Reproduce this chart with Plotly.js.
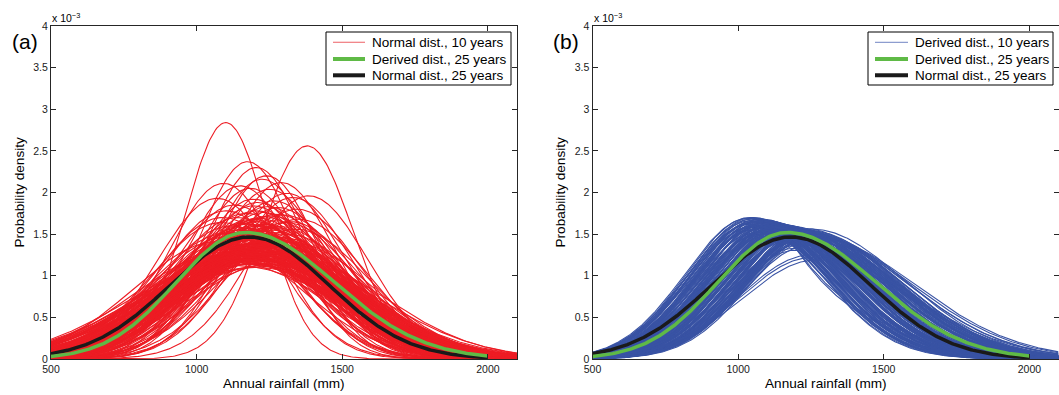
<!DOCTYPE html>
<html><head><meta charset="utf-8">
<script src="https://cdn.plot.ly/plotly-3.0.1.min.js"></script>
<style>html,body{margin:0;padding:0;background:#fff;}#chart{width:1059px;height:395px;}</style>
</head><body><div id="chart"></div>
<script>
// ---- axis ticks ----
const xTickVals = [500, 1000, 1500, 2000];
const yTickVals = [0, 0.5, 1, 1.5, 2, 2.5, 3, 3.5, 4];

// ---- legend labels ----
const legendA = ['Normal dist., 10 years', 'Derived dist., 25 years', 'Normal dist., 25 years'];
const legendB = ['Derived dist., 10 years', 'Derived dist., 25 years', 'Normal dist., 25 years'];

// ---- panel (a): normal distributions from 10-year records (mean mm, peak density x1e-3) ----
const redMeans = [1100,1380,1175,1205,1092,1225,1290,1250,1310,1385,1070,1185,1240,1150,1330,1265,1210,1130,1195,1280,
  1345,1100,1230,1170,1300,1255,1140,1215,1190,1270,1320,1085,1160,1235,1205,1120,1285,1250,1180,1340,
  1145,1220,1195,1265,1105,1310,1240,1165,1210,1290,1135,1260,1185,1230,1070,1325,1200,1155,1275,1245,
  1115,1215,1190,1300,1170,1255,1225,1095,1280,1150,1205,1235,1180,1315,1125,1260,1195,1240,1160,1290,
  1215,1185,1250,1140,1225,1200,1270,1110,1175,1230,1145,1285,1205,1255,1165,1305,1090,1220,1195,1265,
  1135,1245,1180,1350,1210,1155,1275,1120,1240,1190,
  1160,1200,1240,1180,1220,1260,1140,1190,1230,1170,1210,1250,1130,1200,1280,1150,1195,1235,1175,1215,
  1255,1125,1185,1245,1165,1205,1270,1145,1225,1190,1110,1240,1180,1260,1155,1215,1200,1235,1170,1285,
  1135,1225,1195,1250,1160,1210,1120,1275,1185,1230,1150,1265,1205,1175,1245,1190,1220,1140,1255,1200];
const redPeaks = [2.84,2.56,2.37,2.30,2.11,2.16,2.12,2.04,1.99,1.96,1.93,2.05,2.20,2.08,1.94,1.90,1.88,1.85,1.84,1.82,
  1.80,1.78,1.76,1.75,1.73,1.72,1.70,1.69,1.68,1.66,1.65,1.64,1.63,1.62,1.61,1.60,1.59,1.58,1.57,1.56,
  1.55,1.54,1.53,1.52,1.51,1.50,1.49,1.48,1.47,1.46,1.45,1.44,1.43,1.42,1.41,1.40,1.39,1.38,1.37,1.36,
  1.35,1.34,1.33,1.32,1.31,1.30,1.29,1.28,1.27,1.26,1.25,1.24,1.23,1.22,1.21,1.20,1.19,1.18,1.17,1.16,
  1.15,1.14,1.13,1.12,1.11,1.10,1.58,1.47,1.62,1.71,1.36,1.42,1.78,1.55,1.29,1.64,1.70,1.38,1.92,1.27,
  1.52,1.83,1.45,1.68,1.21,1.58,1.74,1.33,1.40,1.66,
  1.20,1.25,1.30,1.35,1.40,1.28,1.18,1.45,1.22,1.50,1.32,1.26,1.24,1.55,1.30,1.16,1.38,1.48,1.27,1.60,
  1.34,1.19,1.42,1.23,1.52,1.29,1.44,1.21,1.36,1.31,1.17,1.57,1.24,1.39,1.46,1.26,1.65,1.33,1.14,1.37,
  1.28,1.49,1.20,1.35,1.43,1.18,1.32,1.25,1.54,1.41,1.23,1.47,1.30,1.22,1.29,1.37,1.19,1.34,1.27,1.44];

// ---- 25-year reference curves ----
const normal25Mean = 1182, normal25Sd = 272;
const derived25Mode = 1168, derived25Peak = 1.52, derived25SdL = 238, derived25SdR = 305;

// ---- panel (b): derived distributions from 10-year records (mode mm, peak x1e-3, left/right spread mm) ----
const blueModes = [1035,1040,1042,1045,1048,1050,1053,1056,1058,1060,1063,1066,1068,1070,1073,1076,1078,1080,1083,1086,
  1088,1090,1093,1096,1098,1100,1103,1106,1108,1110,1113,1116,1118,1120,1123,1126,1128,1130,1133,1136,
  1138,1140,1143,1146,1148,1150,1153,1156,1158,1160,1163,1166,1168,1170,1173,1176,1178,1180,1183,1186,
  1188,1190,1193,1196,1198,1200,1203,1206,1208,1210,1213,1216,1218,1220,1223,1226,1228,1230,1233,1236,
  1238,1240,1243,1246,1248,1250,1253,1255,
  1044,1051,1059,1065,1072,1079,1085,1091,1099,1105,1111,1117,1124,1131,1137,1144,1151,1157,1164,1171,
  1177,1184,1191,1197,1204,1211,1217,1224,1231,1237,1244,1251,1047,1062,1075,1089,1102,1115,1129,1142,
  1155,1169,1182,1195,1209,1222,1235,1249,
  1230,1240,1235,1245, 1255,1268,1250];
const bluePeaks = [1.69,1.70,1.62,1.68,1.58,1.70,1.65,1.55,1.69,1.61,1.67,1.52,1.68,1.59,1.66,1.63,1.50,1.68,1.57,1.65,
  1.61,1.67,1.54,1.64,1.59,1.66,1.48,1.62,1.65,1.56,1.63,1.60,1.52,1.64,1.58,1.62,1.46,1.63,1.55,1.61,
  1.59,1.50,1.62,1.57,1.60,1.44,1.58,1.61,1.53,1.59,1.56,1.48,1.60,1.55,1.58,1.42,1.57,1.52,1.59,1.55,
  1.46,1.58,1.53,1.56,1.40,1.57,1.50,1.55,1.44,1.56,1.52,1.38,1.55,1.49,1.57,1.45,1.53,1.41,1.55,1.48,
  1.52,1.36,1.54,1.46,1.50,1.42,1.56,1.47,
  1.66,1.60,1.64,1.57,1.66,1.61,1.54,1.63,1.58,1.51,1.62,1.57,1.61,1.49,1.60,1.55,1.59,1.47,1.58,1.53,
  1.57,1.45,1.56,1.51,1.55,1.43,1.54,1.49,1.53,1.44,1.52,1.50,1.64,1.56,1.62,1.53,1.60,1.55,1.58,1.52,
  1.57,1.50,1.56,1.47,1.53,1.46,1.51,1.45,
  1.52,1.50,1.53,1.49, 1.22,1.19,1.25];
const blueSdL = [217,216,220,214,222,218,215,224,219,213,221,218,216,223,214,220,217,215,222,218,
  214,220,216,223,215,219,221,217,214,222,218,215,220,217,223,216,219,214,221,218,
  215,222,217,220,214,223,216,219,215,221,217,214,220,218,223,216,219,215,221,217,
  220,214,222,218,216,221,217,214,220,218,223,216,219,215,221,217,220,214,222,218,
  216,221,217,220,215,222,218,216,
  219,215,221,217,214,222,218,216,220,223,215,219,217,221,214,218,222,216,220,215,
  219,223,217,214,221,218,216,220,215,222,217,219,214,220,216,222,218,215,221,217,
  219,214,222,216,220,218,215,221,
  215,218,216,220, 250,256,246];
const blueSdR = [246,250,248,255,252,258,250,262,256,260,254,265,258,262,266,256,270,262,268,260,
  272,264,270,266,274,262,276,268,272,266,276,270,280,268,274,278,282,272,280,274,
  284,278,282,276,286,284,280,288,282,290,284,292,286,282,294,288,292,286,296,290,
  298,292,294,300,296,298,302,296,304,300,298,306,302,306,300,308,304,310,306,310,
  312,308,314,310,316,312,318,314,
  252,257,259,263,261,268,266,271,270,275,273,279,278,283,281,287,285,291,289,294,
  292,298,296,301,299,305,303,308,306,312,310,315,254,262,264,272,269,277,276,284,
  282,290,288,297,295,303,301,311,
  345,352,340,358, 335,340,330];
// curves with a sharp (cusped) peak: left spread and right exponential decay length
const kinkModes = [1198, 1204];
const kinkPeaks = [1.33, 1.31];
const kinkSdL = [245, 240];
const kinkDecay = [250, 265];

// ---- colours ----
const RED = '#ed1c24', BLUE = '#3953a4', GREEN = '#5fba46', BLACK = '#1a1a1a';

const grid = []; for (let x = 500; x <= 2100; x += 5) grid.push(x);
const grid25 = grid.filter(x => x <= 2000);

function normalCurve(mean, peak, xs) {
  const sd = 398.942 / peak;
  return xs.map(x => peak * Math.exp(-0.5 * Math.pow((x - mean) / sd, 2)));
}
function normalSd(mean, sd, xs) {
  const peak = 398.942 / sd;
  return xs.map(x => peak * Math.exp(-0.5 * Math.pow((x - mean) / sd, 2)));
}
function twoPiece(mode, peak, sl, sr, xs) {
  return xs.map(x => { const s = x < mode ? sl : sr; return peak * Math.exp(-0.5 * Math.pow((x - mode) / s, 2)); });
}
function cusp(mode, peak, sl, b, xs) {
  return xs.map(x => x < mode ? peak * Math.exp(-0.5 * Math.pow((x - mode) / sl, 2)) : peak * Math.exp(-(x - mode) / b));
}

const traces = [];
const common = {type: 'scatter', mode: 'lines', showlegend: false, hoverinfo: 'skip'};
// panel (a)
redMeans.forEach((m, i) => traces.push(Object.assign({}, common, {
  x: grid, y: normalCurve(m, redPeaks[i], grid), line: {color: RED, width: 1.1}, name: legendA[0], xaxis: 'x', yaxis: 'y'})));
traces.push(Object.assign({}, common, {x: grid25, y: normalSd(normal25Mean, normal25Sd, grid25),
  line: {color: BLACK, width: 3.5}, name: legendA[2], xaxis: 'x', yaxis: 'y'}));
traces.push(Object.assign({}, common, {x: grid25, y: twoPiece(derived25Mode, derived25Peak, derived25SdL, derived25SdR, grid25),
  line: {color: GREEN, width: 3.5}, name: legendA[1], xaxis: 'x', yaxis: 'y'}));
// panel (b)
blueModes.forEach((m, i) => traces.push(Object.assign({}, common, {
  x: grid, y: twoPiece(m, bluePeaks[i], blueSdL[i], blueSdR[i], grid), line: {color: BLUE, width: 1.1}, name: legendB[0], xaxis: 'x2', yaxis: 'y2'})));
kinkModes.forEach((m, i) => traces.push(Object.assign({}, common, {
  x: grid, y: cusp(m, kinkPeaks[i], kinkSdL[i], kinkDecay[i], grid), line: {color: BLUE, width: 1.1}, name: legendB[0], xaxis: 'x2', yaxis: 'y2'})));
traces.push(Object.assign({}, common, {x: grid25, y: normalSd(normal25Mean, normal25Sd, grid25),
  line: {color: BLACK, width: 3.5}, name: legendB[2], xaxis: 'x2', yaxis: 'y2'}));
traces.push(Object.assign({}, common, {x: grid25, y: twoPiece(derived25Mode, derived25Peak, derived25SdL, derived25SdR, grid25),
  line: {color: GREEN, width: 3.5}, name: legendB[1], xaxis: 'x2', yaxis: 'y2'}));

const FONT = 'Liberation Sans, Arial, Helvetica, sans-serif';
const W = 1059, H = 395;
const px = v => v / W, py = v => 1 - v / H;
const axisCommon = {
  showline: true, linecolor: '#262626', linewidth: 1, mirror: 'ticks', ticks: 'inside', ticklen: 5,
  tickcolor: '#262626', tickwidth: 1, showgrid: false, zeroline: false,
  tickfont: {family: FONT, size: 10.5, color: '#1a1a1a'}, fixedrange: true
};

function ann(text, x, y, size, extra) {
  return Object.assign({text, x, y, xref: 'paper', yref: 'paper', showarrow: false,
    font: {family: FONT, size, color: '#000'}, xanchor: 'center', yanchor: 'middle'}, extra || {});
}

// hand-drawn legends (box, line samples, labels)
const shapes = [], annotations = [];
function addLegend(boxL, boxR, sampleL, sampleR, textX, labels, colors, widths) {
  shapes.push({type: 'rect', xref: 'paper', yref: 'paper', x0: px(boxL), x1: px(boxR), y0: py(85), y1: py(32),
    line: {color: '#000', width: 1}, fillcolor: '#fff', layer: 'above'});
  const rows = [42.3, 59, 75.3];
  labels.forEach((lab, i) => {
    shapes.push({type: 'line', xref: 'paper', yref: 'paper', x0: px(sampleL), x1: px(sampleR), y0: py(rows[i]), y1: py(rows[i]),
      line: {color: colors[i], width: widths[i]}, layer: 'above'});
    annotations.push(ann(lab, px(textX), py(rows[i]), 13.5, {xanchor: 'left'}));
  });
}
addLegend(326, 511, 333, 365, 370, legendA, ['#f07a7e', GREEN, BLACK], [1.2, 4, 4]);
addLegend(868, 1053, 875, 908, 913, legendB, ['#8d9dcf', GREEN, BLACK], [1.2, 4, 4]);

annotations.push(
  ann('(a)', px(25), py(41), 21),
  ann('(b)', px(566), py(41), 21),
  ann('x 10<sup>−3</sup>', px(50), py(17), 10.5, {xanchor: 'left'}),
  ann('x 10<sup>−3</sup>', px(592), py(17), 10.5, {xanchor: 'left'}),
  ann('Probability density', px(19), py(192.5), 13.6, {textangle: -90}),
  ann('Probability density', px(560), py(192.5), 13.6, {textangle: -90}),
  ann('Annual rainfall (mm)', px(284), py(383), 13.6),
  ann('Annual rainfall (mm)', px(825.5), py(383), 13.6)
);

const layout = {
  width: W, height: H, margin: {l: 0, r: 0, t: 0, b: 0},
  paper_bgcolor: '#fff', plot_bgcolor: '#fff', showlegend: false, hovermode: false,
  xaxis: Object.assign({}, axisCommon, {domain: [px(51), px(517)], range: [500, 2100], tickvals: xTickVals, anchor: 'y'}),
  yaxis: Object.assign({}, axisCommon, {domain: [py(359), py(26)], range: [0, 4], tickvals: yTickVals, anchor: 'x'}),
  xaxis2: Object.assign({}, axisCommon, {domain: [px(592.5), px(1058.5)], range: [500, 2100], tickvals: xTickVals, anchor: 'y2'}),
  yaxis2: Object.assign({}, axisCommon, {domain: [py(359), py(26)], range: [0, 4], tickvals: yTickVals, anchor: 'x2'}),
  shapes, annotations
};

Plotly.newPlot('chart', traces, layout, {staticPlot: true, displayModeBar: false});
</script></body></html>
